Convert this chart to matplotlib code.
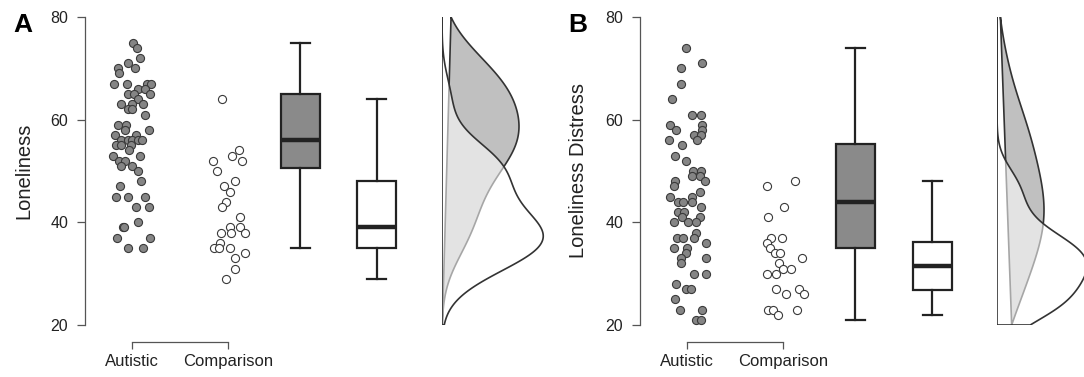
import matplotlib
matplotlib.use("Agg")
import matplotlib.pyplot as plt
import numpy as np

plt.rcParams['font.family'] = ['Liberation Sans', 'DejaVu Sans']

# Panel A: Loneliness
aut_a = [75, 74, 72, 71, 70, 70, 69, 67, 67, 67, 67, 66, 66, 65, 65, 65, 64, 63, 63, 63,
         62, 62, 61, 59, 59, 58, 58, 57, 57, 56, 56, 56, 56, 56, 55, 55, 55, 54, 53, 53,
         52, 52, 51, 51, 50, 48, 47, 45, 45, 45, 43, 43, 40, 39, 39, 37, 37, 35, 35]
aut_a_jit = [1, 5, 8, -4, 3, -14, -13, -18, -5, 15, 19, 6, 13, -4, 2, 18, 6, -11, 0, 11,
             -4, 0, 13, -14, -6, 17, -7, -17, 4, -11, -4, 0, 6, 10, -16, -11, -1, -3, -19, 8,
             -13, -7, -11, 0, 6, 9, -12, -16, -4, 13, 4, 17, 6, -9, -8, -15, 18, -4, 11]
comp_a = [64, 54, 53, 52, 52, 50, 48, 47, 46, 44, 43, 41, 39, 39, 38, 38, 38, 36, 35, 35,
          35, 34, 33, 31, 29]
comp_a_jit = [-6, 11, 4, -15, 14, -11, 7, -4, 2, -2, -6, 12, 2, 12, -7, 3, 17, -8, -14, -9,
              2, 17, 7, 7, -2]

# Panel B: Loneliness Distress
aut_b = [74, 71, 70, 67, 64, 61, 61, 59, 59, 58, 58, 57, 57, 56, 56, 55, 53, 52, 50, 50,
         49, 49, 48, 48, 47, 46, 45, 45, 44, 44, 44, 43, 42, 42, 41, 41, 40, 40, 40, 38,
         37, 37, 37, 36, 35, 35, 34, 33, 33, 32, 30, 30, 28, 27, 27, 25, 23, 23, 21, 21]
aut_b_jit = [-1, 15, -6, -6, -15, 5, 14, -17, 15, -11, 15, 7, 14, -18, 10, -5, -12, -1, 6, 14,
             5, 13, 18, -12, -13, 13, -17, 5, -9, -4, 5, 14, -9, -3, -5, 13, -13, 1, 9, 9,
             -10, -4, 7, 19, -13, 0, -1, -6, 19, -6, 7, 19, -11, -1, 4, -12, -7, 15, 9, 14]
comp_b = [48, 47, 43, 41, 37, 37, 36, 35, 34, 34, 33, 32, 31, 31, 30, 30, 27, 27, 26, 26,
          23, 23, 23, 22]
comp_b_jit = [12, -16, 1, -15, -12, -1, -16, -13, -8, -3, 19, -4, 0, 8, -16, -7, -7, 16, 3, 21,
              -15, -10, 14, -5]

groups = ['Autistic', 'Comparison']
yticks = [20, 40, 60, 80]

W, H = 1084, 377
fig = plt.figure(figsize=(W / 100, H / 100), dpi=100)


def px_axes(left, top, width, height):
    return fig.add_axes([left / W, 1 - (top + height) / H, width / W, height / H])


def kde(data, grid, adjust=1.0):
    # gaussian kernel, R's bw.nrd0 times adjust
    d = np.asarray(data, float)
    n = len(d)
    iqr = np.subtract(*np.percentile(d, [75, 25]))
    bw = adjust * 0.9 * min(d.std(ddof=1), iqr / 1.34) * n ** -0.2
    z = (grid[:, None] - d[None, :]) / bw
    return np.exp(-0.5 * z ** 2).sum(axis=1) / (n * bw * np.sqrt(2 * np.pi))


def panel(x0, letter, ylabel, aut, aut_jit, comp, comp_jit, peak_px):
    ax = px_axes(x0, 17, 335, 308)
    ax.set_xlim(0, 335)
    ax.set_ylim(20, 80)

    ax.scatter(47 + np.array(aut_jit), aut, s=34, facecolor='#858585',
               edgecolor='#3a3a3a', linewidth=0.8, zorder=3, clip_on=False)
    ax.scatter(143 + np.array(comp_jit), comp, s=34, facecolor='white',
               edgecolor='#3a3a3a', linewidth=0.8, zorder=3, clip_on=False)

    bp = ax.boxplot([aut, comp], positions=[215, 292], widths=39, patch_artist=True,
                    showfliers=False, manage_ticks=False, capwidths=19,
                    boxprops=dict(edgecolor='#222222', linewidth=1.6),
                    medianprops=dict(color='#222222', linewidth=3.2),
                    whiskerprops=dict(color='#222222', linewidth=1.6),
                    capprops=dict(color='#222222', linewidth=1.6))
    bp['boxes'][0].set_facecolor('#8a8a8a')
    bp['boxes'][1].set_facecolor('white')

    for s in ['top', 'right']:
        ax.spines[s].set_visible(False)
    ax.spines['left'].set_bounds(20, 80)
    ax.spines['bottom'].set_position(('outward', 12))
    ax.spines['bottom'].set_bounds(47, 143)
    for s in ['left', 'bottom']:
        ax.spines[s].set_color('#555555')
        ax.spines[s].set_linewidth(0.9)
    ax.set_yticks(yticks)
    ax.set_xticks([47, 143])
    ax.set_xticklabels(groups)
    ax.tick_params(axis='y', length=6, width=0.9, color='#555555', labelsize=11.5,
                   pad=6, labelcolor='#222222')
    ax.tick_params(axis='x', length=5, width=0.9, color='#555555', labelsize=12,
                   pad=4, labelcolor='#222222')
    ax.set_ylabel(ylabel, fontsize=14.5, color='#222222')
    ax.yaxis.set_label_coords(-52 / 335, 0.5)
    fig.text((x0 - 72) / W, 1 - 25 / H, letter, fontsize=19, fontweight='bold',
             ha='left', va='center')

    # vertical densities
    grid = np.linspace(20, 80, 300)
    da = kde(aut, grid, 1.4)
    dc = kde(comp, grid, 1.15)
    dax = px_axes(x0 + 357, 17, 130, 308)
    dax.set_ylim(20, 80)
    dax.set_xlim(0, da.max() * 130 / peak_px)
    dax.axis('off')
    dax.fill(da, grid, facecolor='#c0c0c0', edgecolor='#333333', linewidth=1.2)
    dax.fill(np.r_[0, dc, 0], np.r_[20, grid, 80], facecolor=(1, 1, 1, 0.57),
             edgecolor='#333333', linewidth=1.2)


panel(85, 'A', 'Loneliness', aut_a, aut_a_jit, comp_a, comp_a_jit, 77)
panel(640, 'B', 'Loneliness Distress', aut_b, aut_b_jit, comp_b, comp_b_jit, 47)

fig.savefig('out.png', dpi=100)
